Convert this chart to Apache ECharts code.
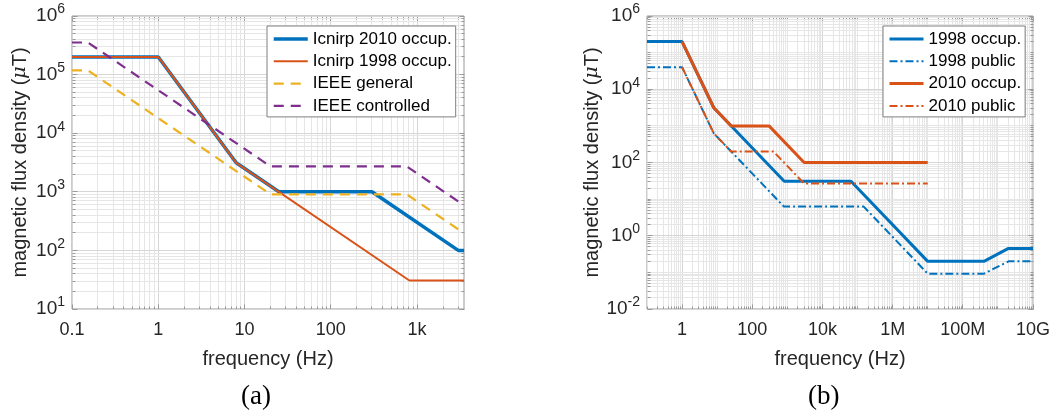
<!DOCTYPE html>
<html>
<head>
<meta charset="utf-8">
<script src="https://cdn.jsdelivr.net/npm/echarts@6/dist/echarts.min.js"></script>
<style>
  html, body { margin: 0; padding: 0; background: #fff; }
  #chart { width: 1054px; height: 416px; }
</style>
</head>
<body>
<div id="chart"></div>
<script>
// ---- (a) low-frequency limits: breakpoints in Hz, flux density in µT ----
const freqIcnirp2010 = [0.1, 1, 8, 25, 300, 3000, 3500];
const fluxIcnirp2010 = [2e5, 2e5, 3125, 1000, 1000, 100, 100];
const freqIcnirp1998 = [0.1, 1, 8, 814, 3500];
const fluxIcnirp1998 = [2e5, 2e5, 3125, 30.7, 30.7];
const freqIeeeGeneral = [0.1, 0.153, 20, 759, 3000];
const fluxIeeeGeneral = [118000, 118000, 905, 905, 229];
const freqIeeeControlled = [0.1, 0.153, 20, 759, 3000];
const fluxIeeeControlled = [353000, 353000, 2710, 2710, 687];

// ---- (b) ICNIRP guidelines over the full range ----
const freq1998Occ = [0.1, 1, 8, 814, 65e3, 1e7, 4e8, 2e9, 1e10];
const flux1998Occ = [2e5, 2e5, 3125, 30.7, 30.7, 0.2, 0.2, 0.45, 0.45];
const freq1998Pub = [0.1, 1, 8, 800, 1.5e5, 1e7, 4e8, 2e9, 1e10];
const flux1998Pub = [4e4, 4e4, 625, 6.25, 6.25, 0.092, 0.092, 0.2, 0.2];
const freq2010Occ = [1, 8, 25, 300, 3000, 1e7];
const flux2010Occ = [2e5, 3125, 1000, 1000, 100, 100];
const freq2010Pub = [1, 8, 25, 400, 3000, 1e7];
const flux2010Pub = [4e4, 625, 200, 200, 26.7, 26.7];

// ---- tick labels (keyed by decade exponent) ----
const xTickLabelsA = { '-1': '0.1', '0': '1', '1': '10', '2': '100', '3': '1k' };
const xTickLabelsB = { '0': '1', '2': '100', '4': '10k', '6': '1M', '8': '100M', '10': '10G' };
const yExponentsA = [1, 2, 3, 4, 5, 6];
const yExponentsB = [-2, 0, 2, 4, 6];

const legendA = ['Icnirp 2010 occup.', 'Icnirp 1998 occup.', 'IEEE general', 'IEEE controlled'];
const legendB = ['1998 occup.', '1998 public', '2010 occup.', '2010 public'];

// axis ranges in decades
const xRangeA = [-1, Math.log10(3500)];
const yRangeA = [1, 6];
const xRangeB = [-1, 10];
const yRangeB = [-2, 6];

const C_BLUE = '#0072BD', C_ORANGE = '#D95319', C_YELLOW = '#EDB120', C_PURPLE = '#7E2F8E';
const FONT = 'Liberation Sans, Arial, sans-serif';
const AXIS_GREY = '#999999';

function toLog(freqs, fluxes) {
  return freqs.map((f, i) => [Math.log10(f), Math.log10(fluxes[i])]);
}
function isInt(v) { return Math.abs(v - Math.round(v)) < 1e-6; }

// Log-style grid: decade lines plus 2..9 subdivisions, with inward ticks on all four sides
function gridSeries(idx, xr, yr, xIsMajor, yIsMajor) {
  const items = [];
  const add = (orient, r, isMajor) => {
    for (let d = Math.floor(r[0]); d <= Math.ceil(r[1]); d++) {
      for (let k = 1; k <= 9; k++) {
        const v = d + Math.log10(k);
        if (v < r[0] - 1e-9 || v > r[1] + 1e-9) continue;
        items.push([orient, v, (k === 1 && isMajor(d)) ? 1 : 0]);
      }
    }
  };
  add(0, xr, xIsMajor);
  add(1, yr, yIsMajor);
  return {
    type: 'custom', xAxisIndex: idx, yAxisIndex: idx, silent: true, z: 1, clip: false,
    data: items,
    renderItem(params, api) {
      const orient = api.value(0), v = api.value(1), major = api.value(2);
      let a, b;
      if (orient === 0) { a = api.coord([v, yr[0]]); b = api.coord([v, yr[1]]); }
      else { a = api.coord([xr[0], v]); b = api.coord([xr[1], v]); }
      const r = p => [Math.round(p[0] - 0.5) + 0.5, Math.round(p[1] - 0.5) + 0.5];
      a = r(a); b = r(b);
      const tl = major ? 5 : 3;
      const children = [{
        type: 'line', shape: { x1: a[0], y1: a[1], x2: b[0], y2: b[1] },
        style: { stroke: major ? '#d6d6d6' : '#e6e6e6', lineWidth: 1 }
      }];
      const tick = { stroke: AXIS_GREY, lineWidth: 1 };
      if (orient === 0) {
        children.push({ type: 'line', shape: { x1: a[0], y1: a[1], x2: a[0], y2: a[1] - tl }, style: tick });
        children.push({ type: 'line', shape: { x1: b[0], y1: b[1], x2: b[0], y2: b[1] + tl }, style: tick });
      } else {
        children.push({ type: 'line', shape: { x1: a[0], y1: a[1], x2: a[0] + tl, y2: a[1] }, style: tick });
        children.push({ type: 'line', shape: { x1: b[0], y1: b[1], x2: b[0] - tl, y2: b[1] }, style: tick });
      }
      return { type: 'group', children };
    }
  };
}

function lineSeries(name, idx, data, color, width, dash, z) {
  return {
    name, type: 'line', xAxisIndex: idx, yAxisIndex: idx, data,
    symbol: 'none', showSymbol: false, z: z, silent: true,
    lineStyle: { color, width, type: dash || 'solid' },
    itemStyle: { color, opacity: 0 },
    emphasis: { disabled: true }
  };
}

const supRich = {
  b: { fontSize: 19, fontFamily: FONT, color: '#262626' },
  s: { fontSize: 14, fontFamily: FONT, color: '#262626', padding: [0, 0, 13, 0] }
};
const titleRich = {
  mu: { fontStyle: 'italic', fontFamily: 'DejaVu Serif, Liberation Serif, serif', fontSize: 19, color: '#262626' }
};

function yAxis(idx, range, exps) {
  return {
    type: 'value', gridIndex: idx, min: range[0], max: range[1], interval: 1,
    axisLine: { show: false }, axisTick: { show: false }, splitLine: { show: false },
    axisLabel: {
      margin: 7,
      formatter: v => (isInt(v) && exps.indexOf(Math.round(v)) >= 0) ? '{b|10}{s|' + Math.round(v) + '}' : '',
      rich: supRich
    },
    name: 'magnetic flux density ({mu|μ}T)', nameLocation: 'middle', nameRotate: 90, nameGap: 42,
    nameTextStyle: { fontSize: 20, fontFamily: FONT, color: '#262626', rich: titleRich }
  };
}
function xAxis(idx, range, labels) {
  return {
    type: 'value', gridIndex: idx, min: range[0], max: range[1], interval: 1,
    axisLine: { show: false }, axisTick: { show: false }, splitLine: { show: false },
    axisLabel: {
      margin: 12, fontSize: 18, fontFamily: FONT, color: '#262626',
      formatter: v => isInt(v) && labels[String(Math.round(v))] !== undefined ? labels[String(Math.round(v))] : '',
      showMinLabel: true, showMaxLabel: true
    },
    name: 'frequency (Hz)', nameLocation: 'middle', nameGap: 40,
    nameTextStyle: { fontSize: 20, fontFamily: FONT, color: '#262626' }
  };
}

function legend(left, names) {
  return {
    orient: 'vertical', left, top: 26, data: names, selectedMode: false,
    padding: [4, 4, 2, 5], itemGap: 4.3, itemWidth: 34, itemHeight: 14,
    borderColor: '#808080', borderWidth: 1, backgroundColor: '#fff', borderRadius: 0,
    itemStyle: { opacity: 0 },
    lineStyle: { width: 'inherit', type: 'inherit', color: 'inherit' },
    textStyle: { fontSize: 17, fontFamily: FONT, color: '#000', lineHeight: 18 }
  };
}

const option = {
  animation: false,
  backgroundColor: '#fff',
  grid: [
    { left: 72, top: 16, width: 392, height: 293, show: true, borderColor: AXIS_GREY, borderWidth: 1, backgroundColor: 'transparent' },
    { left: 647, top: 16, width: 386, height: 293, show: true, borderColor: AXIS_GREY, borderWidth: 1, backgroundColor: 'transparent' }
  ],
  xAxis: [xAxis(0, xRangeA, xTickLabelsA), xAxis(1, xRangeB, xTickLabelsB)],
  yAxis: [yAxis(0, yRangeA, yExponentsA), yAxis(1, yRangeB, yExponentsB)],
  legend: [legend(267, legendA), legend(883, legendB)],
  graphic: [
    { type: 'text', left: 241, top: 383, style: { text: '(a)', font: '27px "Liberation Serif", "Times New Roman", serif', fill: '#000' } },
    { type: 'text', left: 808, top: 383, style: { text: '(b)', font: '27px "Liberation Serif", "Times New Roman", serif', fill: '#000' } }
  ],
  series: [
    gridSeries(0, xRangeA, yRangeA, () => true, () => true),
    gridSeries(1, xRangeB, yRangeB, d => d % 2 === 0, d => d % 2 === 0),
    lineSeries(legendA[0], 0, toLog(freqIcnirp2010, fluxIcnirp2010), C_BLUE, 3.5, null, 3),
    lineSeries(legendA[1], 0, toLog(freqIcnirp1998, fluxIcnirp1998), C_ORANGE, 2, null, 4),
    lineSeries(legendA[2], 0, toLog(freqIeeeGeneral, fluxIeeeGeneral), C_YELLOW, 2.2, [10, 7], 5),
    lineSeries(legendA[3], 0, toLog(freqIeeeControlled, fluxIeeeControlled), C_PURPLE, 2.2, [10, 7], 6),
    lineSeries(legendB[0], 1, toLog(freq1998Occ, flux1998Occ), C_BLUE, 3, null, 3),
    lineSeries(legendB[1], 1, toLog(freq1998Pub, flux1998Pub), C_BLUE, 2, [8, 3, 2, 3], 4),
    lineSeries(legendB[2], 1, toLog(freq2010Occ, flux2010Occ), C_ORANGE, 3, null, 5),
    lineSeries(legendB[3], 1, toLog(freq2010Pub, flux2010Pub), C_ORANGE, 2, [8, 3, 2, 3], 6)
  ]
};

const chart = echarts.init(document.getElementById('chart'), null, { renderer: 'canvas' });
chart.setOption(option);
</script>
</body>
</html>
